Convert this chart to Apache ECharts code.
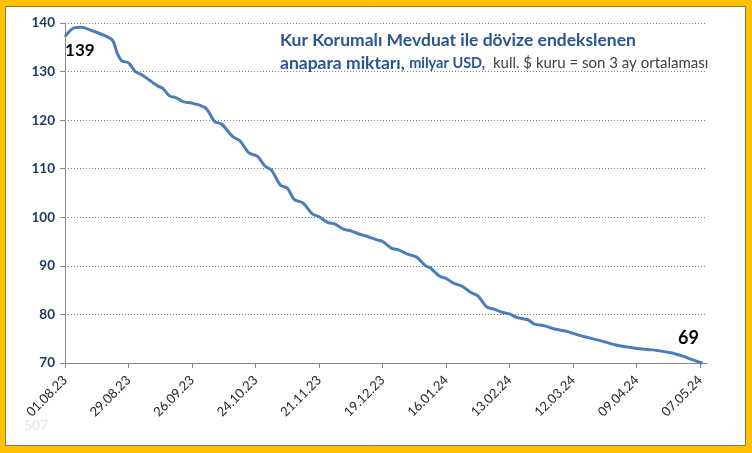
<!DOCTYPE html>
<html>
<head>
<meta charset="utf-8">
<script src="https://cdn.jsdelivr.net/npm/echarts@6/dist/echarts.min.js"></script>
<style>
html,body{margin:0;padding:0;background:#FFC000;}
#c{width:752px;height:453px;}
</style>
</head>
<body>
<div id="c"></div>
<script>
// Dates of readings and values (milyar USD)
const dates = ["2023-08-01","2023-08-05","2023-08-08","2023-08-13","2023-08-18","2023-08-22","2023-08-24","2023-08-26","2023-08-29","2023-09-01","2023-09-04","2023-09-07","2023-09-11","2023-09-13","2023-09-16","2023-09-19","2023-09-22","2023-09-26","2023-10-02","2023-10-06","2023-10-09","2023-10-14","2023-10-17","2023-10-21","2023-10-25","2023-10-28","2023-10-31","2023-11-04","2023-11-07","2023-11-10","2023-11-14","2023-11-18","2023-11-21","2023-11-25","2023-11-28","2023-12-02","2023-12-05","2023-12-09","2023-12-12","2023-12-17","2023-12-19","2023-12-23","2023-12-26","2023-12-30","2024-01-03","2024-01-07","2024-01-09","2024-01-13","2024-01-16","2024-01-19","2024-01-23","2024-01-27","2024-01-30","2024-02-03","2024-02-06","2024-02-10","2024-02-13","2024-02-16","2024-02-21","2024-02-24","2024-02-28","2024-03-03","2024-03-06","2024-03-10","2024-03-14","2024-03-17","2024-03-24","2024-03-31","2024-04-09","2024-04-16","2024-04-24","2024-04-30","2024-05-04","2024-05-08"];
const values = [137.2,139.0,139.1,138.4,137.5,136.4,133.8,132.2,131.8,130.0,129.3,128.3,127.0,126.6,125.0,124.6,123.8,123.5,122.5,119.7,119.2,116.6,115.8,113.3,112.5,110.6,109.7,106.6,106.0,103.7,102.9,100.7,100.1,98.9,98.6,97.5,97.2,96.5,96.1,95.3,95.0,93.6,93.3,92.4,91.8,90.0,89.6,87.9,87.4,86.5,85.8,84.5,83.8,81.5,81.1,80.4,80.1,79.4,78.9,78.0,77.7,77.1,76.8,76.4,75.8,75.4,74.6,73.7,73.0,72.7,72.1,71.3,70.6,70.0];
const yTicks = [70,80,90,100,110,120,130,140];
const startLabel = "139";
const endLabel = "69";
const startDate = "2023-08-01";

const DAY = 86400000;
const t0 = Date.parse(startDate + "T00:00:00Z");
function dayOf(s){ return Math.round((Date.parse(s + "T00:00:00Z") - t0) / DAY); }
function fmt(d){
  const dt = new Date(t0 + d * DAY);
  const dd = String(dt.getUTCDate()).padStart(2,"0");
  const mm = String(dt.getUTCMonth()+1).padStart(2,"0");
  const yy = String(dt.getUTCFullYear()).slice(2);
  return dd + "." + mm + "." + yy;
}
const FONT = 'Lato, "Open Sans", sans-serif';
const peakIdx = 2;
const lastIdx = values.length - 1;
const seriesData = dates.map((d,i)=>[dayOf(d), values[i]]);

const chart = echarts.init(document.getElementById('c'), null, {renderer:'canvas'});
chart.setOption({
  backgroundColor:'#FFC000',
  animation:false,
  graphic:[
    {type:'rect', z:-10, shape:{x:5.5,y:6.5,width:740,height:439}, style:{fill:'#fff', stroke:'#8c7a4a', lineWidth:1}},
    {type:'text', z:-5, left:24, top:418, style:{text:'507', fill:'#e6e6e6', fontSize:14, fontFamily:FONT}},
    {type:'text', left:280, top:31, style:{
      rich:{
        a:{fontSize:17.5, fontWeight:'bold', fill:'#2B5592', fontFamily:FONT, lineHeight:23},
        b:{fontSize:14.5, fontWeight:'bold', fill:'#2B5592', fontFamily:FONT, lineHeight:23},
        c:{fontSize:15, fill:'#404040', fontFamily:FONT, lineHeight:23}
      },
      text:'{a|Kur Korumalı Mevduat ile dövize endekslenen}\n{a|anapara miktarı, }{b|milyar USD,}{c|  kull. $ kuru = son 3 ay ortalaması}'
    }}
  ],
  grid:{left:65, right:45, top:23, bottom:90, containLabel:false},
  xAxis:{
    type:'value', min:0, max:283, interval:28,
    axisLine:{lineStyle:{color:'#868686', width:1}},
    axisTick:{show:true, length:5, lineStyle:{color:'#868686'}},
    splitLine:{show:false},
    axisLabel:{rotate:45, formatter:(v)=> v%28===0 ? fmt(v) : '', color:'#262626', fontSize:13,
      fontFamily:FONT, margin:15, showMaxLabel:false}
  },
  yAxis:{
    type:'value', min:70, max:140, interval:10,
    axisLine:{show:true, lineStyle:{color:'#868686'}},
    axisTick:{show:true, length:5, lineStyle:{color:'#868686'}},
    splitLine:{show:true, lineStyle:{color:'#808080', type:[1,2], width:1}},
    axisLabel:{color:'#1F3A60', fontWeight:'bold', fontSize:13.5, fontFamily:FONT, margin:10,
      formatter:(v)=> yTicks.includes(v) ? String(v) : ''}
  },
  series:[{
    type:'line', data:seriesData, showSymbol:false, symbol:'none', smooth:0.3,
    lineStyle:{color:'#4A7EBB', width:3},
    clip:false,
    markPoint:{
      symbol:'circle', symbolSize:1, itemStyle:{color:'rgba(0,0,0,0)'},
      data:[
        {coord:seriesData[peakIdx], label:{show:true, formatter:startLabel, position:'bottom', distance:14, offset:[-1,0],
          fontSize:17, fontWeight:'bold', color:'#000', fontFamily:FONT}},
        {coord:seriesData[lastIdx], label:{show:true, formatter:endLabel, position:'top', distance:15, offset:[-14,0],
          fontSize:18, fontWeight:'bold', color:'#000', fontFamily:FONT}}
      ]
    }
  }]
});
</script>
</body>
</html>
